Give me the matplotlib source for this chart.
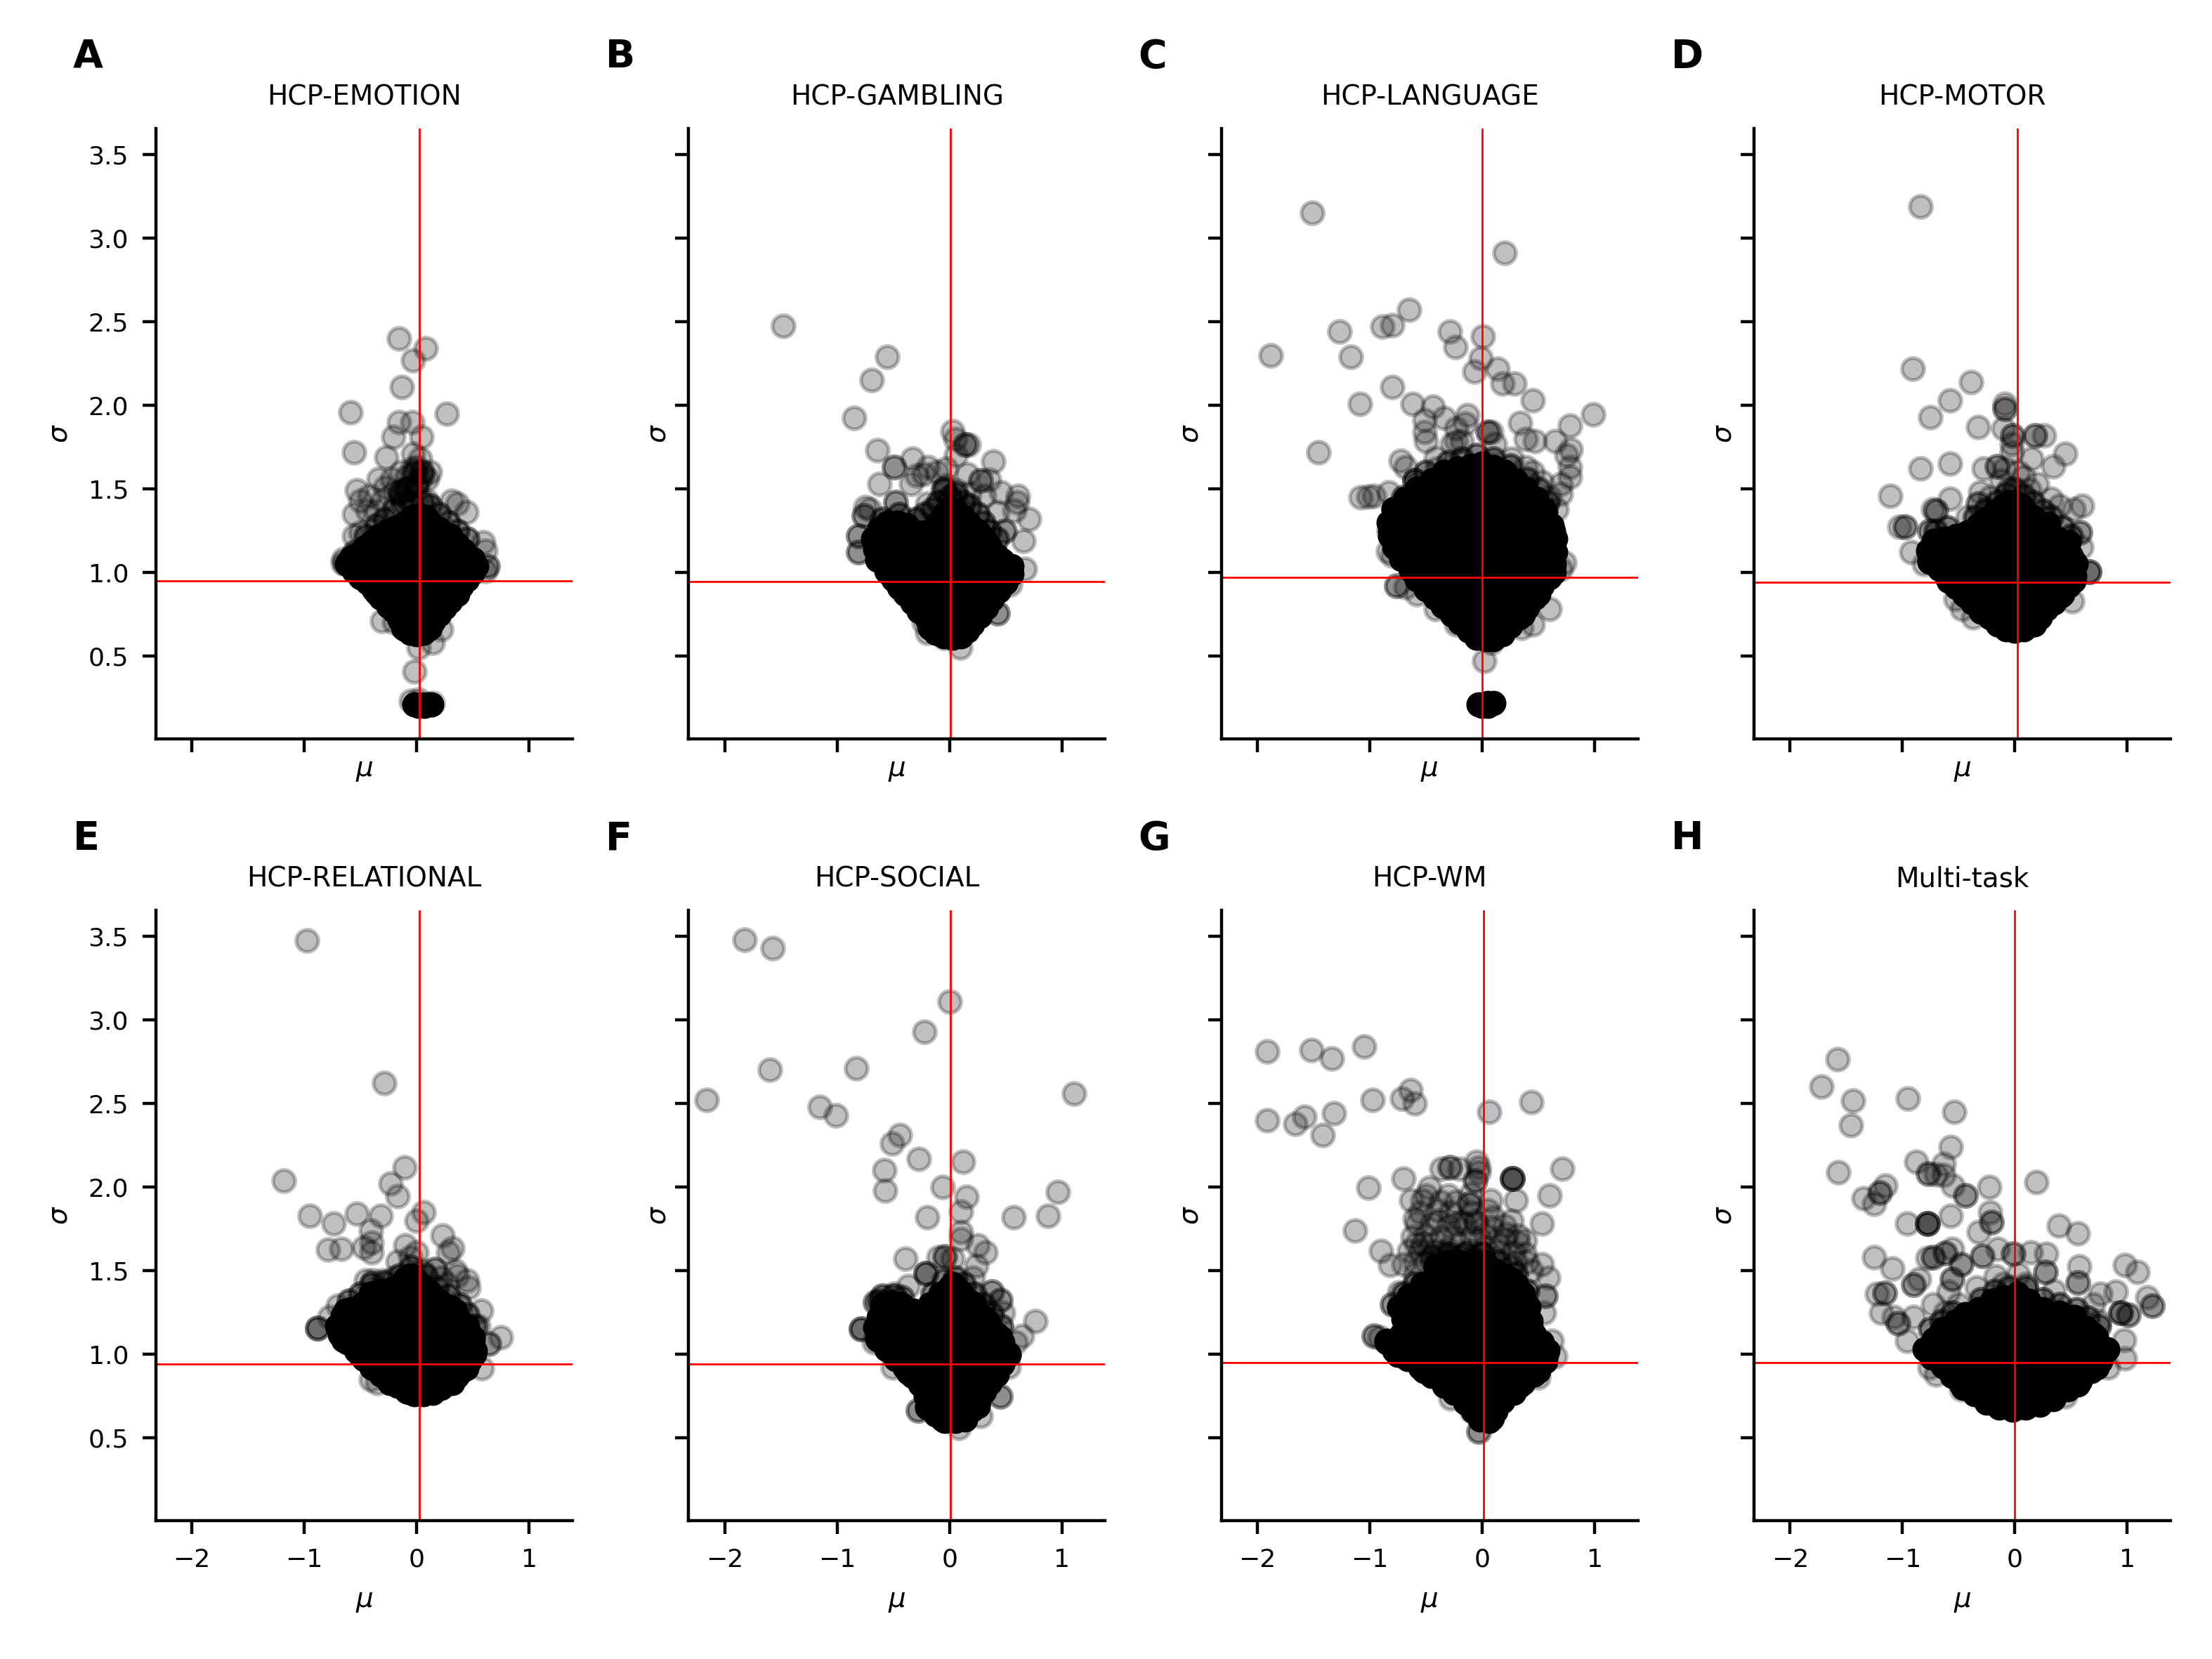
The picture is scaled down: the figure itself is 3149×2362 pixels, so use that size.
"""Mean vs. spread of the fitted parameters for each task (8 panel scatter)."""

import matplotlib
matplotlib.use("Agg")
import matplotlib.pyplot as plt

panel_letters = ["A", "B", "C", "D", "E", "F", "G", "H"]
panel_titles = ["HCP-EMOTION", "HCP-GAMBLING", "HCP-LANGUAGE", "HCP-MOTOR",
                "HCP-RELATIONAL", "HCP-SOCIAL", "HCP-WM", "Multi-task"]
mean_mu = [0.025, 0.01, 0.0, 0.02, 0.025, 0.01, 0.01, 0.0]
mean_sigma = [0.95, 0.945, 0.97, 0.94, 0.94, 0.94, 0.95, 0.95]

# sparse points around the cloud, read one by one (mu, sigma)
emotion_sparse = [
    (-.16, 2.40), (.08, 2.34), (-.03, 2.27), (-.13, 2.11), (-.59, 1.96), (.27, 1.95), (-.56, 1.72),
    (-.16, 1.90), (-.04, 1.90), (.04, 1.81), (-.21, 1.81), (-.27, 1.69), (-.03, 1.71), (.03, 1.68),
    (.12, 1.60), (.09, 1.56), (-.34, 1.56), (-.53, 1.49), (-.14, 1.60), (-.09, 1.57), (-.22, 1.56),
    (-.09, 1.50), (0, 1.63), (.05, 1.57), (-.28, 1.51), (-.42, 1.46), (-.5, 1.43), (-.56, 1.35),
    (-.31, 1.43), (-.36, 1.37), (-.44, 1.37), (.31, 1.43), (.36, 1.41), (.44, 1.36), (.09, 1.43),
    (-.56, 1.22), (-.5, 1.24), (.59, 1.18), (.61, 1.13), (.63, 1.04), (.63, 1.04), (.61, 1.01),
    (-.31, .71), (-.2, .70), (.22, .66), (.14, .58), (.02, .55), (-.02, .41), (-.66, 1.06),
    (-.65, 1.08), (-.64, 1.05), (-.04, 1.62), (-.12, 1.5), (.02, 1.55), (-.2, 1.48), (-.14, 1.46),
    (-.05, .23), (.14, .22), (.02, .24),
]
gambling_sparse = [
    (-1.48, 2.475), (-.555, 2.29), (-.69, 2.15), (-.85, 1.925), (-.64, 1.73), (-.49, 1.63), (-.49, 1.63),
    (-.33, 1.68), (-.19, 1.63), (-.62, 1.53), (-.34, 1.53), (-.29, 1.58), (-.23, 1.59), (-.11, 1.60),
    (-.03, 1.62), (.03, 1.845), (.05, 1.80), (.14, 1.765), (.14, 1.765), (.17, 1.765), (.06, 1.70),
    (.39, 1.665), (.16, 1.59), (.28, 1.55), (.28, 1.55), (.35, 1.555), (.46, 1.48),
    (.61, 1.46), (.60, 1.42), (.58, 1.37), (.43, 1.36), (.71, 1.32), (.49, 1.25), (.49, 1.25),
    (.66, 1.19), (.67, 1.02), (.54, .93), (-.48, 1.42), (-.48, 1.42), (-.75, 1.39), (-.71, 1.38),
    (-.76, 1.34), (-.76, 1.34), (-.20, 1.41), (-.81, 1.22), (-.81, 1.22), (-.81, 1.12), (-.81, 1.12),
    (-.42, .89), (.43, .755), (.43, .755), (-.20, .64), (-.05, .61), (.095, .55),
    (-.23, .70), (-.06, 1.49), (-.03, 1.52), (.06, 1.49), (.18, 1.475), (.31, 1.46),
]
language_sparse = [
    (-1.51, 3.15), (.20, 2.91), (-.65, 2.57), (-.80, 2.48), (-.89, 2.47), (-1.27, 2.44), (-.285, 2.44),
    (.005, 2.41), (-.235, 2.35), (-1.17, 2.29), (-1.88, 2.30), (-.01, 2.28), (.135, 2.22), (-.07, 2.20),
    (.18, 2.13), (.285, 2.13), (.45, 2.03), (-.80, 2.11), (-1.09, 2.01), (-.62, 2.01), (-.44, 1.99),
    (.99, 1.945), (.78, 1.88), (-.34, 1.925), (-.13, 1.94), (.34, 1.895), (-.515, 1.91), (-.23, 1.86),
    (-.15, 1.89), (-.515, 1.84), (-.50, 1.785), (-.27, 1.77), (-.23, 1.785), (-.18, 1.785), (.05, 1.84),
    (.05, 1.84), (.11, 1.77), (.08, 1.84), (.39, 1.80), (.47, 1.785), (.65, 1.785), (.79, 1.735),
    (.75, 1.70), (.78, 1.63), (.78, 1.57), (.70, 1.53), (.70, 1.47), (-1.455, 1.72), (-.725, 1.67),
    (-.68, 1.63), (-.41, 1.685), (-1.08, 1.45), (-1.01, 1.455), (-.96, 1.46), (-.83, 1.48), (-.83, 1.25),
    (-.84, 1.125), (-.80, 1.10), (-.76, .92), (-.76, .92), (-.68, .91), (-.58, .87), (-.41, .78),
    (-.23, .69), (.60, .78), (.45, .69), (.35, .67), (.08, .58), (.02, .47), (.73, 1.06), (.70, 1.02),
    (.26, 1.68), (.39, 1.63), (.53, 1.54), (.45, 1.6), (.6, 1.45), (.66, 1.38), (-.6, 1.55), (-.4, 1.62),
]
motor_sparse = [
    (-.84, 3.19), (-.91, 2.22), (-.39, 2.14), (-.58, 2.03), (-.75, 1.93), (-.33, 1.87), (-.09, 2.01),
    (-.09, 1.98), (-.09, 1.98), (-.10, 1.86), (-.02, 1.82), (-.02, 1.82), (.18, 1.82),
    (.18, 1.82), (.26, 1.82), (.45, 1.71), (.34, 1.635), (.15, 1.68), (-.84, 1.62), (-.58, 1.65),
    (-.28, 1.62), (-.16, 1.635), (-.16, 1.635), (-.09, 1.62), (-1.11, 1.46), (-.58, 1.44), (-.73, 1.38),
    (-.70, 1.37), (-.70, 1.37), (-.31, 1.48), (-.33, 1.41), (-.33, 1.41), (-1.03, 1.275), (-.98, 1.275),
    (-.98, 1.275), (-.76, 1.25), (-.76, 1.25), (-.92, 1.12), (-.81, 1.05), (.60, 1.40),
    (.52, 1.38), (.32, 1.44), (.2, 1.53), (.08, 1.57), (.13, 1.495), (.4, 1.40), (.58, 1.24), (.58, 1.24),
    (.59, 1.15), (.66, 1.005), (.66, 1.005), (.66, 1.005), (.51, .83), (-.47, .78), (-.37, .73), (-.53, .84),
    (-.03, 1.77), (-.03, 1.72), (-.12, 1.55), (-.05, 1.5), (-.22, 1.45), (.03, 1.6), (-.42, 1.33),
]
relational_sparse = [
    (-.976, 3.475), (-.29, 2.62), (-.11, 2.12), (-1.185, 2.04), (-.23, 2.02), (-.17, 1.945), (.06, 1.85),
    (0, 1.80), (-.95, 1.83), (-.74, 1.78), (-.53, 1.84), (-.32, 1.83), (-.41, 1.74), (-.40, 1.67),
    (-.79, 1.625), (-.67, 1.63), (-.47, 1.64), (-.40, 1.61), (.23, 1.71), (.32, 1.635),
    (.28, 1.61), (-.10, 1.65), (0, 1.61), (-.17, 1.555), (-.06, 1.58), (.16, 1.51), (.16, 1.51), (.34, 1.50),
    (.27, 1.42), (.45, 1.44), (.46, 1.40), (.36, 1.47), (-.45, 1.44), (-.39, 1.44), (-.70, 1.29), (-.775, 1.225),
    (-.885, 1.155), (-.885, 1.155), (-.885, 1.155), (.57, 1.26), (.75, 1.10), (.64, 1.065), (.64, 1.065),
    (.58, .915), (-.41, .85), (-.35, .83), (-.3, 1.44), (-.2, 1.46), (.05, 1.5), (.22, 1.46), (.55, 1.17),
]
social_sparse = [
    (-1.825, 3.48), (-1.57, 3.43), (0, 3.11), (-.22, 2.93), (-.83, 2.71), (-1.60, 2.70), (-2.16, 2.52),
    (1.11, 2.56), (-1.155, 2.48), (-1.01, 2.43), (-.44, 2.31), (-.51, 2.26), (-.27, 2.17), (.12, 2.15),
    (-.58, 2.10), (-.57, 1.98), (-.06, 2.0), (.15, 1.94), (.965, 1.97), (.10, 1.855), (.57, 1.82),
    (.88, 1.83), (-.20, 1.82), (.10, 1.73), (.105, 1.69), (.25, 1.65), (.32, 1.61), (-.39, 1.57),
    (-.10, 1.58), (-.04, 1.585), (-.04, 1.585), (.03, 1.57), (-.21, 1.485), (-.21, 1.485), (-.21, 1.485),
    (.24, 1.53), (.21, 1.46), (-.365, 1.41), (-.49, 1.36), (-.42, 1.34), (-.42, 1.34),
    (-.66, 1.31), (-.66, 1.31), (.38, 1.375), (.38, 1.375), (.45, 1.325), (.45, 1.325), (.48, 1.25),
    (.765, 1.20), (.645, 1.11), (.59, 1.07), (-.785, 1.15), (-.785, 1.15), (-.785, 1.15), (-.67, 1.07),
    (-.505, .92), (.53, .925), (-.28, .665), (-.28, .665), (.45, .75), (.45, .75), (.28, .63),
    (.085, .56), (-.085, .63),
]
wm_sparse = [
    (-1.91, 2.81), (-1.52, 2.82), (-1.335, 2.77), (-1.05, 2.84), (-1.91, 2.40), (-1.58, 2.42), (-1.66, 2.38),
    (-1.32, 2.44), (-1.42, 2.31), (-.975, 2.52), (-.71, 2.53), (-.64, 2.58), (-.60, 2.50), (.06, 2.45),
    (.435, 2.51), (-.05, 2.15), (-.03, 2.12), (-.03, 2.09), (-.06, 2.04), (-.06, 2.04),
    (-.36, 2.11), (-.29, 2.12), (-.29, 2.12), (-.20, 2.11), (.27, 2.05), (.27, 2.05), (.27, 2.05), (.27, 2.05),
    (.71, 2.11), (-.70, 2.05), (-1.01, 1.995), (-.47, 1.995), (.60, 1.95), (.30, 1.92), (-.53, 1.92),
    (-.63, 1.92), (-.37, 1.91), (-.23, 1.91), (-.11, 1.90), (-.11, 1.90), (.075, 1.92), (-.60, 1.81),
    (-.39, 1.80), (-.24, 1.78), (.10, 1.82), (.26, 1.80), (.53, 1.78), (-.06, 1.80),
    (-1.13, 1.74), (-.90, 1.62), (-.82, 1.535), (-.53, 1.66), (-.59, 1.66), (-.20, 1.65), (.32, 1.67),
    (.22, 1.72), (-.02, 1.69), (-.34, 1.61), (.53, 1.54), (.44, 1.50), (.26, 1.52),
    (.585, 1.46), (.56, 1.35), (.56, 1.35), (.55, 1.25), (-.60, 1.48), (-.70, 1.54),
    (-.74, 1.37), (-.80, 1.30), (-.80, 1.30), (-.96, 1.11), (-.96, 1.11), (-.91, 1.10),
    (.62, 1.08), (.65, .99), (.50, .86), (-.28, .735), (-.095, .66), (-.03, .54), (-.03, .54),
    (-.70, .99), (-.6, 1.55), (-.5, 1.55), (-.4, 1.56), (-.3, 1.57), (-.2, 1.58), (-.1, 1.58), (0, 1.6),
    (.1, 1.57), (.2, 1.55), (.3, 1.55), (.4, 1.55), (-.55, 1.62), (-.42, 1.62), (-.3, 1.63), (-.12, 1.62),
    (.02, 1.64), (.15, 1.62), (.28, 1.61), (.38, 1.6), (-.62, 1.7), (-.5, 1.71), (-.36, 1.7), (-.25, 1.7),
    (-.1, 1.7), (.02, 1.72), (.2, 1.69), (.32, 1.71), (-.58, 1.78), (-.45, 1.78), (-.3, 1.77), (-.18, 1.79),
    (-.05, 1.78), (.08, 1.76), (.2, 1.77), (-.55, 1.85), (-.4, 1.86), (-.28, 1.85), (-.1, 1.85), (.05, 1.86),
    (-.5, 1.95), (-.3, 1.95), (-.1, 1.96), (-.15, 1.78), (-.65, 1.62), (.38, 1.68), (.12, 1.68), (-.45, 1.66),
]
multitask_sparse = [
    (-1.575, 2.765), (-1.72, 2.60), (-1.44, 2.515), (-.95, 2.53), (-.54, 2.45), (-1.46, 2.37), (-.57, 2.24),
    (-.88, 2.15), (-.635, 2.14), (-1.57, 2.09), (-.77, 2.08), (-.77, 2.08), (-.70, 2.075), (-.635, 2.07),
    (-.55, 2.01), (-.23, 2.0), (.19, 2.03), (-.44, 1.95), (-.44, 1.95), (-1.15, 2.01),
    (-1.2, 1.965), (-1.2, 1.965), (-1.345, 1.935), (-1.255, 1.90), (-.57, 1.83), (-.22, 1.85), (-.21, 1.79),
    (-.21, 1.79), (-.96, 1.78), (-.78, 1.78), (-.78, 1.78), (-.78, 1.78), (-.78, 1.78), (-.32, 1.73),
    (.39, 1.77), (.56, 1.725), (-1.255, 1.58), (-1.09, 1.515), (-.56, 1.63), (-.62, 1.605), (-.62, 1.605),
    (-.73, 1.58), (-.73, 1.58), (-.78, 1.575), (-.48, 1.54), (-.48, 1.54), (-.29, 1.59), (-.29, 1.59), (-.15, 1.63),
    (-.015, 1.60), (-.015, 1.60), (.14, 1.61), (.28, 1.60), (.27, 1.49), (.27, 1.49), (.57, 1.525),
    (.98, 1.535), (1.09, 1.49), (-.85, 1.45), (-.90, 1.415), (-.90, 1.415), (-.56, 1.45), (-.56, 1.45), (-.59, 1.375),
    (-.34, 1.40), (-.17, 1.465), (.03, 1.48), (.56, 1.43), (.56, 1.43), (.76, 1.36), (.90, 1.375),
    (-1.23, 1.36), (-1.16, 1.365), (-1.16, 1.365), (-1.19, 1.25), (-1.08, 1.225), (-1.04, 1.185), (-1.04, 1.185),
    (-.90, 1.225), (-.73, 1.30), (-.96, 1.08), (1.18, 1.34), (1.22, 1.29), (1.22, 1.29), (.94, 1.25),
    (.94, 1.25), (.94, 1.25), (1.01, 1.235), (1.01, 1.235), (.97, 1.085), (.98, .975), (.83, .92),
    (-.76, .92), (-.70, .88), (-.48, .79), (.04, .68), (.45, .75), (.56, .82), (.1, 1.42), (.35, 1.38), (-.1, 1.42),
    (.7, 1.3), (-.5, 1.3), (-.62, 1.25), (.75, 1.2),
]

# saturated part of each cloud, as (sigma, [mu, ...]) rows
emotion_dense = [
    (1.33, [-.03, .08]), (1.22, [-.32, -.18, -.04, .1, .24, .3]),
    (1.12, [-.48, -.34, -.2, -.06, .08, .22, .36]),
    (1.05, [-.6, -.46, -.32, -.18, -.04, .1, .24, .38, .5]),
    (.97, [-.5, -.36, -.22, -.08, .06, .2, .34, .45]),
    (.88, [-.36, -.22, -.08, .06, .2, .36]), (.8, [-.25, -.1, .04, .18, .25]),
    (.72, [-.13, 0, .14]), (.66, [-.1, 0, .1]),
    (.21, [-.02, .04, .1, .13]), (.2, [.02, .07]),
]
gambling_dense = [
    (1.33, [-.03, .06]), (1.26, [-.62, -.5, -.38, -.1, .02, .16]),
    (1.16, [-.66, -.54, -.42, -.3, -.18, -.06, .06, .18, .3]),
    (1.075, [-.64, -.52, -.4, -.28, -.16, -.04, .08, .2, .32, .43]),
    (.995, [-.54, -.42, -.3, -.18, -.06, .06, .18, .3, .42, .52]),
    (.93, [-.45, -.33, -.21, -.09, .03, .15, .27, .43]),
    (.85, [-.33, -.2, -.07, .05, .2, .35]), (.77, [-.18, -.05, .08, .2, .28]),
    (.675, [-.15, -.03, .08, .18]),
]
language_dense = [
    (1.6, [-.34, -.2, -.06, .08, .2]), (1.5, [-.58, -.44, -.3, -.16, -.02, .12, .26, .39]),
    (1.44, [-.6, -.44, -.28, -.12, .04, .2, .36]),
    (1.38, [-.79, -.65, -.51, -.37, -.23, -.09, .05, .19, .33, .47, .55]),
    (1.315, [-.72, -.58, -.44, -.3, -.16, -.02, .12, .26, .4, .54]),
    (1.25, [-.82, -.68, -.54, -.4, -.26, -.12, .02, .16, .3, .44, .58, .63]),
    (1.185, [-.7, -.56, -.42, -.28, -.14, 0, .14, .28, .42, .56]),
    (1.12, [-.74, -.6, -.46, -.32, -.18, -.04, .1, .24, .38, .52, .645]),
    (1.06, [-.54, -.4, -.26, -.12, .02, .16, .3, .44, .58]),
    (1.0, [-.61, -.47, -.33, -.19, -.05, .09, .23, .37, .51, .635]),
    (.87, [-.42, -.28, -.14, 0, .14, .28, .42, .5]), (.935, [-.35, -.21, -.07, .07, .21, .35, .5]),
    (.75, [-.23, -.09, .05, .19, .33, .365]), (.81, [-.15, 0, .15, .3]), (.63, [-.07, .03, .15]), (.69, [-.05, .1, .22]),
    (.21, [-.03, .03]), (.2, [0, .05]), (.22, [.05, .1]),
]
motor_dense = [
    (1.40, [-.04, .06]), (1.29, [-.31, -.17, -.03, .11, .25, .3]),
    (1.18, [-.72, -.58, -.44, -.3, -.16, -.02, .12, .26, .4, .48]),
    (1.065, [-.76, -.62, -.48, -.34, -.2, -.06, .08, .22, .36, .53]),
    (1.12, [-.65, -.5, -.36, -.22, -.08, .06, .2, .34, .46]),
    (1.0, [-.52, -.38, -.24, -.1, .04, .18, .32, .46]),
    (.95, [-.59, -.45, -.31, -.17, -.03, .11, .25, .39, .52]),
    (.86, [-.44, -.3, -.16, -.02, .12, .26, .41]),
    (.765, [-.3, -.16, -.02, .12, .24]), (.69, [-.15, -.02, .1, .17]),
]
relational_dense = [
    (1.45, [-.1, -.02]), (1.36, [-.41, -.27, -.13, .01, .12]),
    (1.26, [-.63, -.49, -.35, -.21, -.07, .07, .21, .34]),
    (1.17, [-.7, -.56, -.42, -.28, -.14, 0, .14, .28, .45]),
    (1.085, [-.65, -.51, -.37, -.23, -.09, .05, .19, .33, .5]),
    (1.0, [-.51, -.37, -.23, -.09, .05, .19, .33, .51]),
    (.915, [-.39, -.25, -.11, .03, .17, .31, .44]),
    (.83, [-.24, -.1, .04, .18, .32]), (.775, [-.07, .03, .12]),
]
social_dense = [
    (1.40, [0, .06]), (1.30, [-.59, -.45, -.17, -.03, .11, .22]),
    (1.20, [-.62, -.48, -.34, -.2, -.06, .08, .22, .34]),
    (1.10, [-.64, -.5, -.36, -.22, -.08, .06, .2, .34, .45]),
    (.995, [-.5, -.36, -.22, -.08, .06, .2, .34, .53]),
    (.89, [-.365, -.22, -.08, .06, .2, .34, .42]),
    (.79, [-.22, -.08, .06, .2, .31]), (.69, [-.2, -.06, .08, .25]),
    (.61, [-.06, .04, .14]),
]
wm_dense = [
    (1.52, [-.41, -.27, -.13, 0]), (1.45, [-.44, -.3, -.16, -.02, .12, .25]),
    (1.39, [-.53, -.39, -.25, -.11, .03, .17, .32]), (1.335, [-.6, -.46, -.32, -.18, -.04, .1, .24, .36]),
    (1.28, [-.74, -.6, -.46, -.32, -.18, -.04, .1, .24, .39]), (1.22, [-.55, -.41, -.27, -.13, .01, .15, .29]),
    (1.165, [-.65, -.51, -.37, -.23, -.09, .05, .19, .33, .43]), (1.115, [-.58, -.44, -.3, -.16, -.02, .12, .26, .4]),
    (1.07, [-.85, -.71, -.57, -.43, -.29, -.15, -.01, .13, .27, .41, .52]),
    (.995, [-.75, -.61, -.47, -.33, -.19, -.05, .09, .23, .37, .57]),
    (.90, [-.52, -.38, -.24, -.1, .04, .18, .32, .5]),
    (.81, [-.33, -.19, -.05, .09, .23, .33]), (.715, [-.11, .01, .16]), (.62, [-.01, .09]),
]
multitask_dense = [
    (1.325, [-.17, -.05, .08]), (1.225, [-.45, -.31, -.17, -.03, .11, .25, .39, .53]),
    (1.12, [-.67, -.53, -.39, -.25, -.11, .03, .17, .31, .45, .59, .7]),
    (1.02, [-.78, -.64, -.5, -.36, -.22, -.08, .06, .2, .34, .48, .62, .81]),
    (.92, [-.62, -.48, -.34, -.2, -.06, .08, .22, .36, .5, .64, .73]),
    (.82, [-.48, -.34, -.2, -.06, .08, .22, .36, .56]),
    (.73, [-.22, -.08, .06, .2, .34]),
]

# points along the outline of the saturated part (mu, sigma)
emotion_edge = [
    (.03, 1.34), (.12, 1.30), (.2, 1.26), (.3, 1.22), (.36, 1.17), (.42, 1.13), (.5, 1.08), (.53, 1.04), (.5, 1.0),
    (.45, .96), (.4, .92), (.36, .87), (.3, .83), (.25, .79), (.2, .75), (.15, .71), (.12, .67), (.06, .64), (0, .63),
    (-.06, .64), (-.12, .67), (-.15, .72), (-.2, .77), (-.25, .81), (-.32, .85), (-.38, .9), (-.44, .94), (-.5, .98),
    (-.56, 1.01), (-.62, 1.05), (-.58, 1.09), (-.52, 1.11), (-.46, 1.15), (-.4, 1.18), (-.34, 1.22), (-.26, 1.25),
    (-.18, 1.27), (-.1, 1.3), (-.03, 1.33),
]
gambling_edge = [
    (-.62, 1.26), (-.68, 1.2), (-.66, 1.14), (-.62, 1.07), (-.56, 1.01), (-.5, .96), (-.45, .91), (-.39, .87),
    (-.33, .82), (-.27, .77), (-.2, .72), (-.17, .67), (-.12, .64), (-.05, .62), (.03, .61), (.1, .62), (.16, .65),
    (.2, .69), (.27, .74), (.33, .79), (.38, .84), (.44, .89), (.5, .94), (.55, .99), (.55, 1.04), (.47, 1.07),
    (.42, 1.1), (.36, 1.15), (.31, 1.2), (.25, 1.25), (.18, 1.29), (.12, 1.33), (.06, 1.37), (0, 1.38), (-.05, 1.35),
    (-.1, 1.3), (-.15, 1.25), (-.22, 1.24), (-.3, 1.24), (-.38, 1.28), (-.46, 1.3), (-.55, 1.3),
]
language_edge = [
    (-.34, 1.6), (-.45, 1.55), (-.58, 1.5), (-.68, 1.44), (-.79, 1.38), (-.83, 1.3), (-.82, 1.22), (-.78, 1.15),
    (-.72, 1.08), (-.64, 1.02), (-.58, .96), (-.5, .9), (-.42, .85), (-.35, .8), (-.27, .75), (-.2, .7), (-.12, .65),
    (-.05, .61), (.03, .6), (.1, .6), (.18, .63), (.25, .68), (.33, .73), (.4, .79), (.47, .85), (.53, .92), (.6, .97),
    (.64, 1.05), (.65, 1.12), (.65, 1.2), (.62, 1.28), (.56, 1.36), (.48, 1.44), (.39, 1.5), (.3, 1.55), (.2, 1.6),
    (.1, 1.63), (0, 1.65), (-.1, 1.64), (-.22, 1.62),
]
motor_edge = [
    (0, 1.42), (.08, 1.38), (.16, 1.33), (.24, 1.29), (.3, 1.25), (.38, 1.2), (.46, 1.16), (.5, 1.1), (.54, 1.05),
    (.53, .98), (.48, .92), (.42, .87), (.35, .82), (.28, .78), (.22, .73), (.16, .69), (.08, .66), (0, .65), (-.08, .66),
    (-.15, .69), (-.22, .73), (-.3, .77), (-.38, .82), (-.45, .87), (-.52, .91), (-.6, .97), (-.67, 1.02), (-.76, 1.07),
    (-.77, 1.13), (-.72, 1.19), (-.62, 1.2), (-.52, 1.22), (-.42, 1.24), (-.33, 1.28), (-.26, 1.32), (-.18, 1.36),
    (-.1, 1.4), (-.04, 1.42),
]
relational_edge = [
    (-.05, 1.47), (.03, 1.42), (.12, 1.37), (.2, 1.32), (.3, 1.28), (.37, 1.22), (.44, 1.17), (.5, 1.1), (.52, 1.02),
    (.47, .96), (.42, .91), (.36, .87), (.3, .83), (.22, .8), (.14, .77), (.06, .76), (-.02, .76), (-.09, .78), (-.17, .81),
    (-.25, .84), (-.32, .88), (-.4, .92), (-.47, .97), (-.54, 1.02), (-.62, 1.07), (-.68, 1.12), (-.71, 1.17), (-.66, 1.23),
    (-.58, 1.27), (-.48, 1.3), (-.4, 1.36), (-.32, 1.38), (-.22, 1.39), (-.14, 1.42),
]
social_edge = [
    (.03, 1.42), (.1, 1.37), (.17, 1.32), (.24, 1.27), (.3, 1.22), (.36, 1.17), (.42, 1.12), (.47, 1.07), (.53, 1.0),
    (.47, .94), (.42, .88), (.36, .83), (.31, .78), (.26, .72), (.2, .67), (.13, .62), (.05, .6), (-.04, .6), (-.12, .64),
    (-.2, .68), (-.21, .75), (-.26, .82), (-.33, .87), (-.4, .92), (-.48, .97), (-.56, 1.03), (-.64, 1.09), (-.66, 1.16),
    (-.63, 1.22), (-.6, 1.29), (-.52, 1.31), (-.43, 1.3), (-.32, 1.26), (-.22, 1.26), (-.16, 1.3), (-.08, 1.36),
]
wm_edge = [
    (-.41, 1.53), (-.53, 1.42), (-.65, 1.35), (-.74, 1.28), (-.7, 1.21), (-.65, 1.17), (-.72, 1.12), (-.85, 1.08),
    (-.78, 1.02), (-.66, .97), (-.55, .92), (-.45, .87), (-.34, .81), (-.25, .77), (-.15, .71), (-.08, .66), (-.02, .61),
    (.06, .6), (.12, .66), (.18, .72), (.28, .77), (.36, .83), (.46, .88), (.56, .96), (.58, 1.02), (.53, 1.07), (.46, 1.12),
    (.43, 1.2), (.41, 1.28), (.36, 1.36), (.3, 1.42), (.2, 1.47), (.12, 1.5), (.02, 1.55), (-.08, 1.56), (-.2, 1.55), (-.3, 1.55),
]
multitask_edge = [
    (-.1, 1.34), (.02, 1.36), (.12, 1.32), (.25, 1.27), (.4, 1.25), (.53, 1.21), (.62, 1.16), (.72, 1.1), (.82, 1.03),
    (.76, .96), (.68, .9), (.58, .84), (.47, .79), (.35, .74), (.22, .7), (.1, .68), (-.02, .67), (-.14, .68), (-.25, .71),
    (-.36, .76), (-.46, .8), (-.56, .87), (-.64, .93), (-.74, .98), (-.8, 1.03), (-.72, 1.09), (-.64, 1.15), (-.52, 1.2),
    (-.44, 1.24), (-.32, 1.27), (-.2, 1.32),
]

# darker fringe just outside the saturated part (mu, sigma)
emotion_halo = [
    (-.05, 1.42), (.05, 1.42), (-.12, 1.42), (.12, 1.4), (-.2, 1.38), (.2, 1.35), (-.28, 1.32), (.28, 1.3), (-.36, 1.28),
    (.36, 1.25), (-.08, 1.5), (-.15, 1.48), (0, 1.52), (.05, 1.6), (-.02, 1.6), (-.45, 1.22), (.45, 1.2), (-.55, 1.12),
]
gambling_halo = [
    (0, 1.45), (-.05, 1.5), (.05, 1.47), (.12, 1.42), (.18, 1.4), (-.1, 1.42), (-.15, 1.38), (-.22, 1.35), (.25, 1.35),
    (.3, 1.3), (.35, 1.25), (-.3, 1.32), (-.45, 1.35), (-.6, 1.32), (.42, 1.2),
]
language_halo = [
    (-.3, 1.66), (-.18, 1.68), (-.05, 1.7), (.1, 1.68), (.25, 1.64), (.4, 1.56), (-.5, 1.6), (-.6, 1.55), (.5, 1.5),
    (-.7, 1.45), (.58, 1.42),
]
motor_halo = [
    (0, 1.5), (.08, 1.46), (-.08, 1.47), (.16, 1.42), (-.16, 1.42), (.25, 1.37), (-.25, 1.38), (.32, 1.33), (.42, 1.27),
    (.5, 1.22), (-.35, 1.33), (-.6, 1.27), (-.7, 1.25),
]
relational_halo = [
    (-.05, 1.52), (.08, 1.47), (.18, 1.4), (.28, 1.35), (.38, 1.3), (.45, 1.24), (.52, 1.17), (-.15, 1.47), (-.28, 1.43),
    (-.4, 1.42), (-.5, 1.36), (-.6, 1.32),
]
social_halo = [
    (.05, 1.46), (.13, 1.42), (.22, 1.36), (.3, 1.3), (.38, 1.24), (.46, 1.17), (-.6, 1.35), (-.5, 1.35), (-.62, 1.32),
    (-.15, 1.36), (-.05, 1.44),
]
wm_halo = [
    (-.45, 1.58), (-.3, 1.6), (-.15, 1.6), (0, 1.6), (.15, 1.55), (.3, 1.48), (.4, 1.38), (-.6, 1.42), (-.7, 1.36),
]
multitask_halo = [
    (-.3, 1.33), (-.18, 1.38), (-.05, 1.4), (.1, 1.4), (.25, 1.33), (.4, 1.3), (.55, 1.27), (.65, 1.22), (.75, 1.17),
    (-.55, 1.25), (-.65, 1.2), (-.75, 1.15),
]

sparse_points = [emotion_sparse, gambling_sparse, language_sparse, motor_sparse,
                 relational_sparse, social_sparse, wm_sparse, multitask_sparse]
dense_points = [emotion_dense, gambling_dense, language_dense, motor_dense,
                relational_dense, social_dense, wm_dense, multitask_dense]
edge_points = [emotion_edge, gambling_edge, language_edge, motor_edge,
               relational_edge, social_edge, wm_edge, multitask_edge]
halo_points = [emotion_halo, gambling_halo, language_halo, motor_halo,
               relational_halo, social_halo, wm_halo, multitask_halo]

W, H = 3149, 2362
fig, axes = plt.subplots(2, 4, figsize=(W / 400, H / 400), dpi=400, sharex=True, sharey=True)
fig.subplots_adjust(left=222 / W, right=3090 / W, top=1 - 183 / H, bottom=1 - 2165 / H,
                    wspace=0.279, hspace=0.281)

for i, ax in enumerate(axes.flat):
    mu = [p[0] for p in sparse_points[i]]
    sigma = [p[1] for p in sparse_points[i]]
    ax.scatter(mu, sigma, s=32, c="k", alpha=0.25, linewidths=1)

    mu = [p[0] for p in halo_points[i]]
    sigma = [p[1] for p in halo_points[i]]
    ax.scatter(mu, sigma, s=32, c="k", alpha=0.5, linewidths=1)

    mu = [m for row in dense_points[i] for m in row[1]] + [p[0] for p in edge_points[i]]
    sigma = [row[0] for row in dense_points[i] for _ in row[1]] + [p[1] for p in edge_points[i]]
    ax.scatter(mu, sigma, s=30, c="k", linewidths=1)

    ax.axvline(mean_mu[i], color="red", lw=0.5)
    ax.axhline(mean_sigma[i], color="red", lw=0.5)

    ax.set_title(panel_titles[i], fontsize=7, pad=6)
    ax.set_xlabel(r"$\mu$", fontsize=7, labelpad=1 if i < 4 else 4)
    ax.set_ylabel(r"$\sigma$", fontsize=7, labelpad=1 if i % 4 else 4)
    ax.tick_params(labelsize=6.5, width=0.8, length=3.5)
    ax.spines["top"].set_visible(False)
    ax.spines["right"].set_visible(False)

    bbox = ax.get_position()
    fig.text(bbox.x0 - 118 / W, bbox.y1 + 102 / H, panel_letters[i], fontsize=10,
             fontweight="bold", va="center", ha="left")

ax = axes[0, 0]
ax.set_xlim(-2.32, 1.385)
ax.set_ylim(0.005, 3.655)
ax.set_xticks([-2, -1, 0, 1])
ax.set_yticks([0.5, 1.0, 1.5, 2.0, 2.5, 3.0, 3.5])

fig.savefig("out.png", dpi=400)
